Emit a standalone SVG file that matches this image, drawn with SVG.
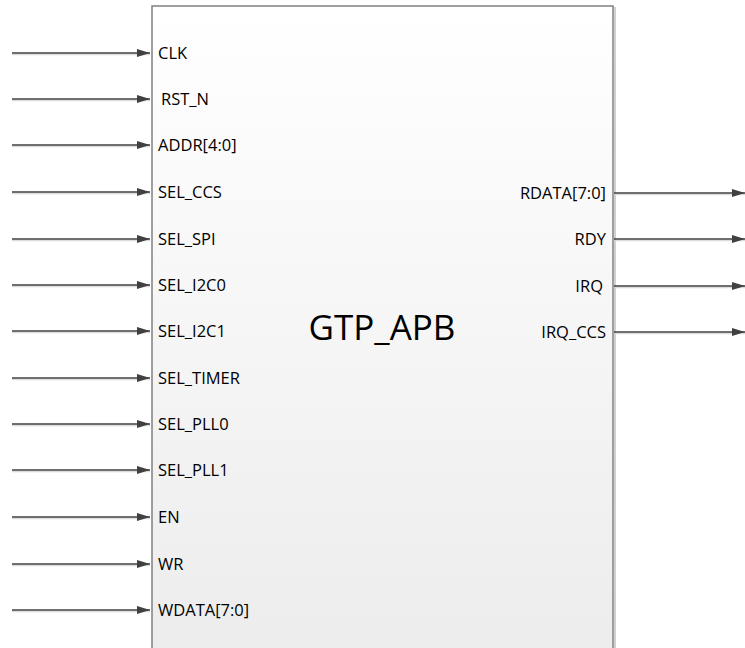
<svg xmlns="http://www.w3.org/2000/svg" width="745" height="648" viewBox="0 0 745 648">
<defs>
<linearGradient id="bg" x1="0" y1="0" x2="0" y2="1">
<stop offset="0" stop-color="#ffffff"/>
<stop offset="1" stop-color="#ececec"/>
</linearGradient>
<marker id="arr" viewBox="0 0 13 8" refX="13" refY="4" markerWidth="13" markerHeight="8" markerUnits="userSpaceOnUse" orient="auto">
<path d="M0,0 L13,4 L0,8 Z" fill="#404040"/>
</marker>
<style>
.w{stroke:#404040;stroke-width:1.3;fill:none}
.s{stroke:#dcdcdc;stroke-width:1.5;fill:none}
.t{font-family:"Open Sans","Noto Sans","Liberation Sans",sans-serif;font-size:16.5px;fill:#000}
.r{text-anchor:end}
</style>
</defs>
<g id="GTP_APB">
<rect x="154" y="8" width="461" height="660" fill="none" stroke="#d0d0d0" stroke-width="2"/>
<rect x="152" y="6" width="461" height="660" fill="url(#bg)" stroke="#808080" stroke-width="1.5"/>
<text x="382" y="340" text-anchor="middle" font-family="'Open Sans','Noto Sans','Liberation Sans',sans-serif" font-size="35">GTP_APB</text>
<text class="t" x="158" y="59">CLK</text>
<text class="t" x="161" y="105">RST_N</text>
<text class="t" x="158" y="151">ADDR[4:0]</text>
<text class="t" x="158" y="198">SEL_CCS</text>
<text class="t" x="158" y="245">SEL_SPI</text>
<text class="t" x="158" y="291">SEL_I2C0</text>
<text class="t" x="158" y="337">SEL_I2C1</text>
<text class="t" x="158" y="384">SEL_TIMER</text>
<text class="t" x="158" y="430">SEL_PLL0</text>
<text class="t" x="158" y="476">SEL_PLL1</text>
<text class="t" x="158" y="523">EN</text>
<text class="t" x="158" y="570">WR</text>
<text class="t" x="158" y="616">WDATA[7:0]</text>
<text class="t r" x="606" y="199">RDATA[7:0]</text>
<text class="t r" x="606" y="245">RDY</text>
<text class="t r" x="603" y="292">IRQ</text>
<text class="t r" x="606" y="338">IRQ_CCS</text>
</g>
<g id="connectors">
<g class="s">
<path d="M12,54.5H150M12,100.5H150M12,146.5H150M12,193.5H150M12,240.5H150M12,286.5H150M12,332.5H150M12,379.5H150M12,425.5H150M12,471.5H150M12,518.5H150M12,565.5H150M12,611.5H150"/>
<path d="M615,194.5H745M615,240.5H745M615,287.5H745M615,333.5H745"/>
</g>
<g class="w">
<path d="M12,53H150" marker-end="url(#arr)"/>
<path d="M12,99H150" marker-end="url(#arr)"/>
<path d="M12,145H150" marker-end="url(#arr)"/>
<path d="M12,192H150" marker-end="url(#arr)"/>
<path d="M12,239H150" marker-end="url(#arr)"/>
<path d="M12,285H150" marker-end="url(#arr)"/>
<path d="M12,331H150" marker-end="url(#arr)"/>
<path d="M12,378H150" marker-end="url(#arr)"/>
<path d="M12,424H150" marker-end="url(#arr)"/>
<path d="M12,470H150" marker-end="url(#arr)"/>
<path d="M12,517H150" marker-end="url(#arr)"/>
<path d="M12,564H150" marker-end="url(#arr)"/>
<path d="M12,610H150" marker-end="url(#arr)"/>
<path d="M614,193H745" marker-end="url(#arr)"/>
<path d="M614,239H745" marker-end="url(#arr)"/>
<path d="M614,286H745" marker-end="url(#arr)"/>
<path d="M614,332H745" marker-end="url(#arr)"/>
</g>
</g>
</svg>
